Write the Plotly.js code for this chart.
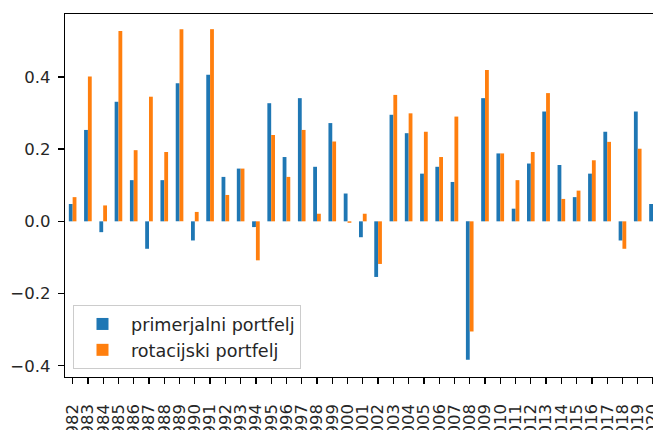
<!DOCTYPE html>
<html>
<head>
<meta charset="utf-8">
<script src="https://cdn.plot.ly/plotly-3.0.1.min.js"></script>
<style>html,body{margin:0;padding:0;background:#fff;}#chart{width:653px;height:430px;}</style>
</head>
<body>
<div id="chart"></div>
<script>
const years = ["1982","1983","1984","1985","1986","1987","1988","1989","1990","1991",
  "1992","1993","1994","1995","1996","1997","1998","1999","2000","2001",
  "2002","2003","2004","2005","2006","2007","2008","2009","2010","2011",
  "2012","2013","2014","2015","2016","2017","2018","2019","2020"];

const primerjalni = [0.048, 0.253, -0.030, 0.331, 0.114, -0.076, 0.114, 0.382, -0.053, 0.406,
  0.123, 0.146, -0.016, 0.327, 0.178, 0.341, 0.151, 0.272, 0.077, -0.044,
  -0.154, 0.295, 0.244, 0.132, 0.151, 0.109, -0.383, 0.341, 0.188, 0.035,
  0.160, 0.304, 0.156, 0.067, 0.132, 0.248, -0.053, 0.304, 0.048];

const rotacijski = [0.067, 0.401, 0.044, 0.527, 0.197, 0.345, 0.192, 0.532, 0.026, 0.532,
  0.073, 0.146, -0.108, 0.239, 0.123, 0.253, 0.021, 0.221, -0.004, 0.021,
  -0.118, 0.350, 0.299, 0.248, 0.178, 0.290, -0.305, 0.419, 0.188, 0.114,
  0.192, 0.355, 0.062, 0.085, 0.169, 0.220, -0.076, 0.201, null];

const seriesNames = ["primerjalni portfelj", "rotacijski portfelj"];
const yTicks = [-0.4, -0.2, 0.0, 0.2, 0.4];

const font = {family: "DejaVu Sans, sans-serif", size: 16.5, color: "#262626"};
const legendFont = {family: "DejaVu Sans, sans-serif", size: 17.6, color: "#262626"};

const traces = [
  {type: "bar", x: years, y: primerjalni, name: seriesNames[0], legendgroup: "a",
   marker: {color: "#1f77b4", line: {width: 0}}},
  {type: "bar", x: years, y: rotacijski, name: seriesNames[1], legendgroup: "b",
   marker: {color: "#ff7f0e", line: {width: 0}}}
];

const layout = {
  width: 653, height: 430,
  margin: {l: 65, r: 0, t: 14, b: 53, pad: 0},
  paper_bgcolor: "#ffffff", plot_bgcolor: "#ffffff",
  font: font,
  barmode: "group", bargap: 0.5, bargroupgap: 0,
  showlegend: true,
  legend: {
    x: 0.0136, y: 0.022, xanchor: "left", yanchor: "bottom",
    bgcolor: "rgba(255,255,255,0.8)", bordercolor: "#cccccc", borderwidth: 1,
    font: legendFont, tracegroupgap: 1, traceorder: "normal", itemwidth: 47
  },
  xaxis: {
    type: "category", range: [-0.5, 38.0],
    tickmode: "array", tickvals: years, ticktext: years,
    tickangle: -90, tickfont: font,
    ticks: "outside", ticklen: 6, tickwidth: 1.3, tickcolor: "#000",
    showline: true, linecolor: "#000", linewidth: 1.3, mirror: true,
    showgrid: false, zeroline: false, ticklabelstandoff: 13
  },
  yaxis: {
    range: [-0.431, 0.574],
    tickmode: "array", tickvals: yTicks, tickformat: ".1f",
    tickfont: font,
    ticks: "outside", ticklen: 6, tickwidth: 1.3, tickcolor: "#000",
    showline: true, linecolor: "#000", linewidth: 1.3, mirror: false,
    showgrid: false, zeroline: false, ticklabelstandoff: 4
  }
};

Plotly.newPlot("chart", traces, layout, {staticPlot: true, displayModeBar: false});
</script>
</body>
</html>
